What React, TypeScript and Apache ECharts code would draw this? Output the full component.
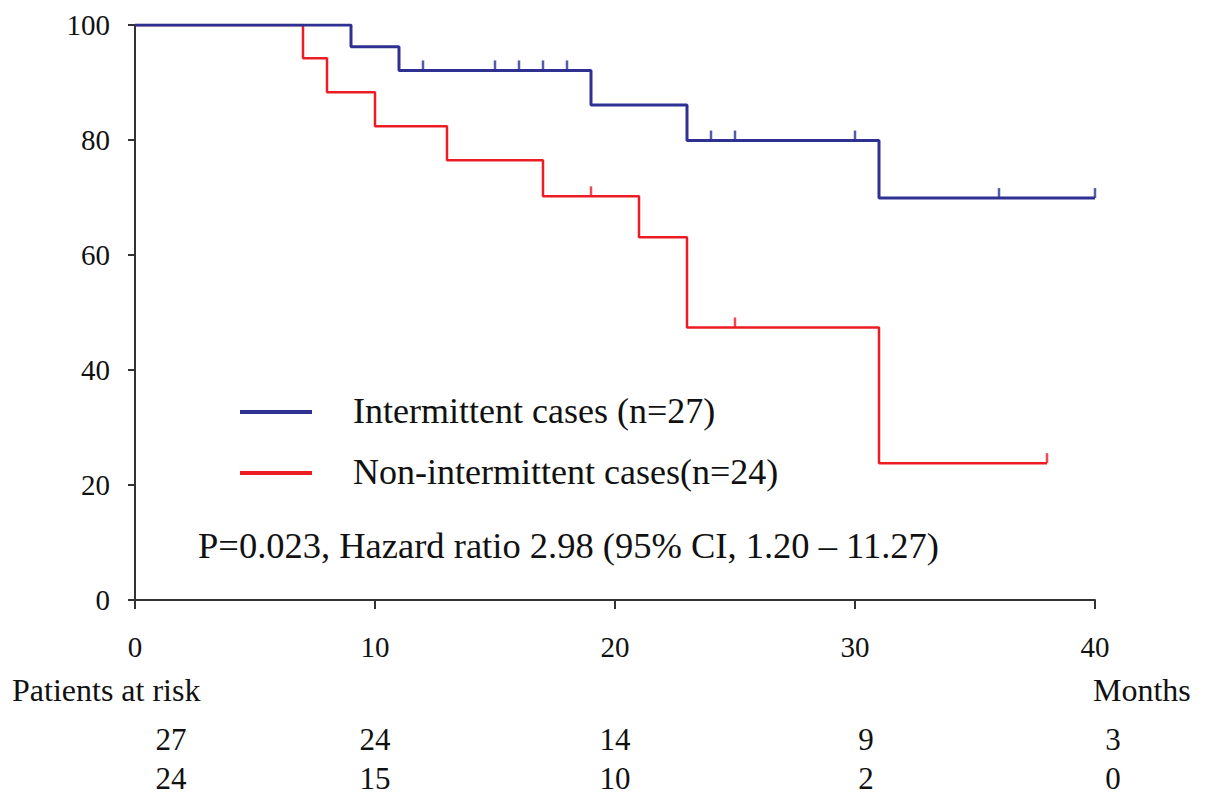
import React, { useEffect, useRef } from "react";
import * as echarts from "echarts";

// ---- data ----
const xTicks = [0, 10, 20, 30, 40];
const blueTimes = [0, 9, 11, 19, 23, 31, 40];
const blueSurv = [100, 96.2, 92.1, 86.1, 79.9, 69.9, 69.9];
const blueCensor = [12, 15, 16, 17, 18, 24, 25, 30, 36, 40];
const redTimes = [0, 7, 8, 10, 13, 17, 21, 23, 31, 38];
const redSurv = [100, 94.2, 88.3, 82.4, 76.5, 70.2, 63.1, 47.4, 23.8, 23.8];
const redCensor = [19, 25, 38];
const riskTimes = [0, 10, 20, 30, 40];
const riskBlue = [27, 24, 14, 9, 3];
const riskRed = [24, 15, 10, 2, 0];
const blueLabel = "Intermittent cases (n=27)";
const redLabel = "Non-intermittent cases(n=24)";
const statText = "P=0.023, Hazard ratio 2.98 (95% CI, 1.20 \u2013 11.27)";

// ---- layout ----
const riskColX = [171, 375, 615, 866, 1113];
const BLUE = "#2E3192";
const RED = "#ED1C24";
const FONT = '"Liberation Serif", "Times New Roman", serif';

function survAt(times: number[], surv: number[], t: number) {
  let v = surv[0];
  for (let i = 0; i < times.length; i++) if (times[i] <= t) v = surv[i];
  return v;
}

function txt(text: string, x: number, y: number, size: number, align = "center") {
  return {
    type: "text",
    x,
    y,
    silent: true,
    style: {
      text,
      font: `${size}px ${FONT}`,
      fill: "#111",
      textAlign: align,
      textVerticalAlign: "middle",
      align,
      verticalAlign: "middle",
    },
  };
}

export default function App() {
  const ref = useRef<HTMLDivElement>(null);
  useEffect(() => {
    if (!ref.current) return;
    const chart = echarts.init(ref.current, null, { renderer: "svg" });
    const graphics: any[] = [
      { type: "line", shape: { x1: 240, y1: 412, x2: 312, y2: 412 }, style: { stroke: BLUE, lineWidth: 4 } },
      { type: "line", shape: { x1: 240, y1: 473, x2: 312, y2: 473 }, style: { stroke: RED, lineWidth: 4 } },
      txt(blueLabel, 353, 411, 36, "left"),
      txt(redLabel, 353, 472, 36, "left"),
      txt(statText, 198, 545, 36.5, "left"),
      txt("Patients at risk", 12, 690, 32, "left"),
      txt("Months", 1093, 690, 32, "left"),
    ];
    riskTimes.forEach((_, i) => {
      graphics.push(txt(String(riskBlue[i]), riskColX[i], 739, 31));
      graphics.push(txt(String(riskRed[i]), riskColX[i], 778, 31));
    });
    chart.setOption({
      animation: false,
      backgroundColor: "#fff",
      grid: { left: 135, top: 25, right: 110, bottom: 202 },
      xAxis: {
        type: "value",
        min: 0,
        max: 40,
        interval: 10,
        splitLine: { show: false },
        axisLine: { show: true, onZero: false, lineStyle: { color: "#333", width: 2 } },
        axisTick: { show: true, length: 9, lineStyle: { color: "#333", width: 2 } },
        axisLabel: {
          margin: 32,
          fontSize: 29,
          fontFamily: FONT,
          color: "#111",
          customValues: xTicks,
        },
      },
      yAxis: {
        type: "value",
        min: 0,
        max: 100,
        interval: 20,
        splitLine: { show: false },
        axisLine: { show: true, lineStyle: { color: "#333", width: 2 } },
        axisTick: { show: true, length: 7, lineStyle: { color: "#333", width: 2 } },
        axisLabel: { margin: 25, fontSize: 29, fontFamily: FONT, color: "#111" },
      },
      series: [
        {
          type: "line",
          step: "end",
          data: blueTimes.map((t, i) => [t, blueSurv[i]]),
          showSymbol: false,
          lineStyle: { color: BLUE, width: 3 },
          z: 3,
        },
        {
          type: "line",
          step: "end",
          data: redTimes.map((t, i) => [t, redSurv[i]]),
          showSymbol: false,
          lineStyle: { color: RED, width: 2.5 },
          z: 2,
        },
        {
          type: "scatter",
          data: blueCensor.map((t) => [t, survAt(blueTimes, blueSurv, t)]),
          symbol: "rect",
          symbolSize: [2.5, 10],
          symbolOffset: [0, -5],
          itemStyle: { color: BLUE },
          z: 4,
        },
        {
          type: "scatter",
          data: redCensor.map((t) => [t, survAt(redTimes, redSurv, t)]),
          symbol: "rect",
          symbolSize: [2.5, 10],
          symbolOffset: [0, -5],
          itemStyle: { color: RED },
          z: 4,
        },
      ],
      graphic: graphics,
    });
    return () => chart.dispose();
  }, []);
  return (
    <div
      ref={ref}
      style={{ position: "fixed", left: 0, top: 0, width: 1205, height: 802, background: "#fff" }}
    />
  );
}
